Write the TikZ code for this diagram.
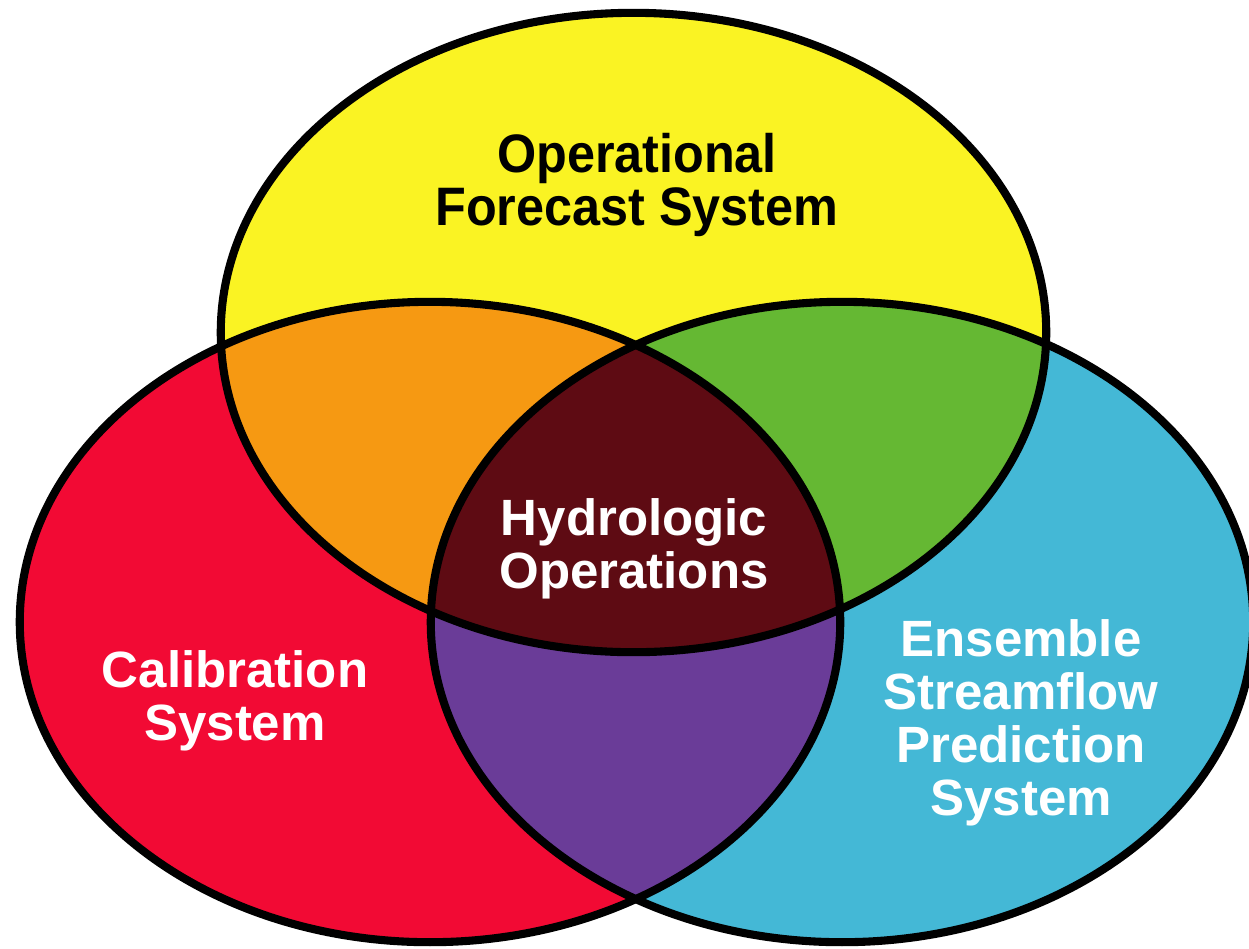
\documentclass[tikz,border=0pt]{standalone}
\usepackage{fontspec}
\setmainfont{Liberation Sans}
\newfontfamily\narrowsans{Liberation Sans}[FakeStretch=0.93]

\definecolor{opsyellow}{RGB}{250,243,35}
\definecolor{calred}{RGB}{242,10,52}
\definecolor{espblue}{RGB}{68,184,214}
\definecolor{mixorange}{RGB}{246,153,18}
\definecolor{mixgreen}{RGB}{101,184,51}
\definecolor{mixpurple}{RGB}{106,60,152}
\definecolor{coremaroon}{RGB}{94,11,19}

% the three system ellipses
\newcommand{\ellOFS}{(633.5,332.5) ellipse [x radius=4.125cm, y radius=3.195cm]}
\newcommand{\ellCAL}{(430,622) ellipse [x radius=4.10cm, y radius=3.20cm]}
\newcommand{\ellESP}{(842,622) ellipse [x radius=4.11cm, y radius=3.20cm]}

\tikzset{
  outline/.style={draw=black, line width=2.3pt},
  label/.style={font=\bfseries\fontsize{14.5pt}{15.1pt}\selectfont, align=center, inner sep=0pt},
}

\begin{document}
\begin{tikzpicture}[x=0.01cm, y=-0.01cm]
  \useasboundingbox (0,0) rectangle (1249,948);

  % single-system areas
  \fill[opsyellow] \ellOFS;
  \fill[calred] \ellCAL;
  \fill[espblue] \ellESP;

  % pairwise overlaps
  \begin{scope}
    \clip \ellOFS;
    \fill[mixorange] \ellCAL;
    \fill[mixgreen] \ellESP;
  \end{scope}
  \begin{scope}
    \clip \ellCAL;
    \fill[mixpurple] \ellESP;
  \end{scope}

  % common core
  \begin{scope}
    \clip \ellOFS;
    \clip \ellCAL;
    \fill[coremaroon] \ellESP;
  \end{scope}

  % outlines
  \path[outline] \ellOFS;
  \path[outline] \ellCAL;
  \path[outline] \ellESP;

  % labels
  \node[label, font=\narrowsans\bfseries\fontsize{15.4pt}{15.1pt}\selectfont, text=black] (ofs) at (637,185)
    {Operational\\Forecast System};
  \node[label, text=white] (hyd) at (634,549) {Hydrologic\\Operations};
  \node[label, text=white] (cal) at (235,701) {Calibration\\System};
  \node[label, text=white] (esp) at (1021,723) {Ensemble\\Streamflow\\Prediction\\System};
\end{tikzpicture}
\end{document}
